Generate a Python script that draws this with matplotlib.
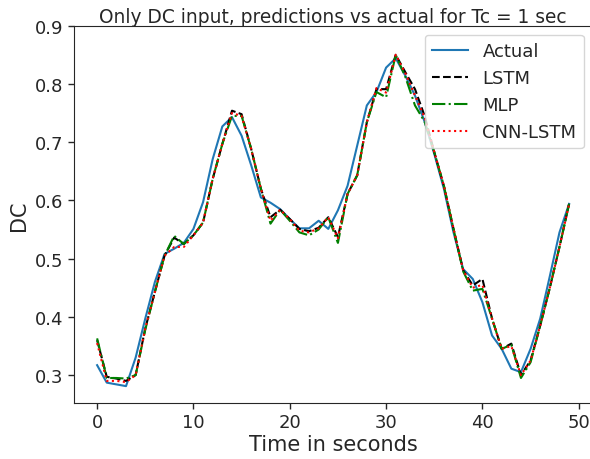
import matplotlib
matplotlib.use("Agg")
import matplotlib.pyplot as plt

# values
actual = [0.317, 0.287, 0.284, 0.281, 0.330, 0.397, 0.460, 0.508, 0.517, 0.527,
          0.551, 0.597, 0.671, 0.727, 0.743, 0.711, 0.660, 0.605, 0.596, 0.585,
          0.568, 0.552, 0.552, 0.565, 0.551, 0.583, 0.625, 0.694, 0.763, 0.786,
          0.828, 0.844, 0.814, 0.780, 0.735, 0.680, 0.620, 0.545, 0.482, 0.465,
          0.425, 0.368, 0.345, 0.311, 0.305, 0.345, 0.397, 0.470, 0.545, 0.594]
lstm = [0.360, 0.297, 0.294, 0.290, 0.300, 0.380, 0.443, 0.505, 0.536, 0.525,
        0.540, 0.562, 0.637, 0.697, 0.754, 0.748, 0.688, 0.620, 0.571, 0.584,
        0.568, 0.551, 0.547, 0.553, 0.571, 0.537, 0.611, 0.643, 0.734, 0.791,
        0.791, 0.850, 0.820, 0.791, 0.745, 0.683, 0.625, 0.551, 0.480, 0.454,
        0.465, 0.397, 0.345, 0.354, 0.300, 0.325, 0.385, 0.450, 0.520, 0.594]
mlp = [0.363, 0.295, 0.295, 0.294, 0.300, 0.378, 0.443, 0.505, 0.539, 0.525,
       0.540, 0.562, 0.637, 0.697, 0.745, 0.745, 0.688, 0.620, 0.560, 0.584,
       0.565, 0.545, 0.540, 0.550, 0.571, 0.527, 0.611, 0.643, 0.734, 0.786,
       0.777, 0.850, 0.812, 0.763, 0.735, 0.683, 0.625, 0.551, 0.478, 0.445,
       0.448, 0.397, 0.345, 0.352, 0.295, 0.322, 0.385, 0.450, 0.520, 0.594]
cnn_lstm = [0.355, 0.290, 0.290, 0.288, 0.300, 0.380, 0.443, 0.505, 0.520, 0.520,
            0.540, 0.562, 0.637, 0.697, 0.750, 0.745, 0.688, 0.620, 0.565, 0.584,
            0.568, 0.548, 0.545, 0.552, 0.571, 0.535, 0.611, 0.643, 0.734, 0.793,
            0.785, 0.850, 0.818, 0.780, 0.742, 0.683, 0.625, 0.551, 0.480, 0.450,
            0.455, 0.397, 0.345, 0.350, 0.300, 0.325, 0.385, 0.450, 0.520, 0.594]
seconds = list(range(len(actual)))

TEXT = "#262626"
plt.rcParams.update({
    "font.family": "DejaVu Sans",
    "text.color": TEXT,
    "axes.labelcolor": TEXT,
    "axes.edgecolor": TEXT,
    "xtick.color": TEXT,
    "ytick.color": TEXT,
    "xtick.direction": "out",
    "ytick.direction": "out",
})

fig = plt.figure(figsize=(5.9, 4.6), dpi=100)
ax = fig.add_axes([0.1246, 0.1217, 0.8800, 0.8203])
# the reference's right spine falls outside the picture
ax.spines["right"].set_visible(False)

ax.plot(seconds, actual, color="#1f77b4", lw=1.5, label="Actual")
ax.plot(seconds, lstm, "k--", lw=1.5, label="LSTM")
ax.plot(seconds, mlp, color="g", ls="-.", lw=1.5, label="MLP")
ax.plot(seconds, cnn_lstm, "r:", lw=1.5, label="CNN-LSTM")

ax.set_xlim(-2.45, 51.45)
ax.set_ylim(0.252, 0.9)
ax.set_xticks([0, 10, 20, 30, 40, 50])
ax.tick_params(labelsize=13, length=4, width=1)
ax.set_xlabel("Time in seconds", fontsize=15, labelpad=2)
ax.set_ylabel("DC", fontsize=15)
ax.set_title("Only DC input, predictions vs actual for Tc = 1 sec", fontsize=13.4, pad=3)
ax.legend(loc="upper right", fontsize=13, fancybox=True, framealpha=0.8)

fig.savefig("out.png", dpi=100)
